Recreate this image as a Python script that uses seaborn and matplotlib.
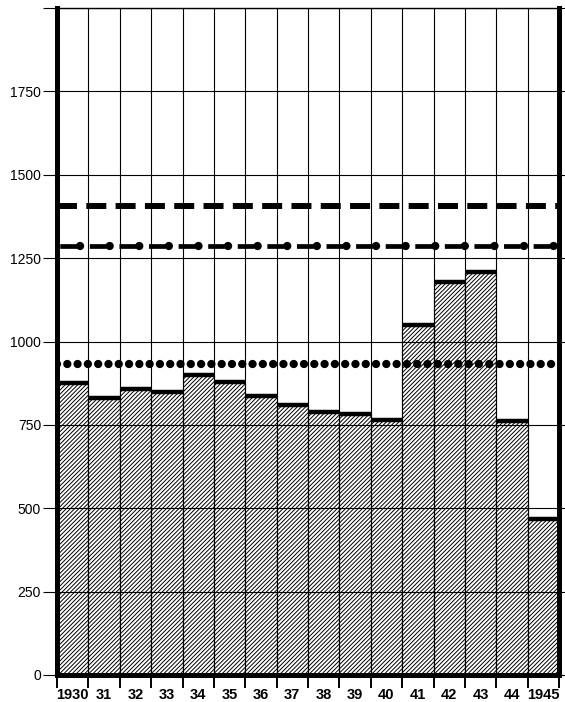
import matplotlib
matplotlib.use("Agg")
import matplotlib.pyplot as plt
import seaborn as sns
import numpy as np
import pandas as pd

# ---- data ----
years = ["1930", "31", "32", "33", "34", "35", "36", "37", "38", "39",
         "40", "41", "42", "43", "44", "1945"]
values = [875, 830, 858, 850, 900, 880, 837, 810, 790, 782,
          765, 1050, 1177, 1207, 762, 468]
dashed_level = 1405
dashdot_level = 1285
dotted_level = 932
y_ticks = [0, 250, 500, 750, 1000, 1250, 1500, 1750, 2000]
y_tick_labels = ["0", "250", "500", "750", "1000", "1250", "1500", "1750", ""]

sns.set_theme(style="white")
plt.rcParams["font.family"] = ["Liberation Sans", "DejaVu Sans"]
plt.rcParams["lines.scale_dashes"] = False
plt.rcParams["hatch.linewidth"] = 0.7
plt.rcParams["hatch.color"] = "black"

df = pd.DataFrame({"year": years, "value": values})

fig = plt.figure(figsize=(5.65, 7.02), dpi=100)
ax = fig.add_axes([57 / 565, 27 / 702, (559 - 57) / 565, (675 - 8) / 702])

sns.barplot(data=df, x="year", y="value", order=years, width=1.0,
            color="white", saturation=1, edgecolor="black", linewidth=0.8,
            hatch="////////", ax=ax, zorder=1)

# thick top edge of every bar, taken from the drawn patches
for p in ax.patches:
    ax.plot([p.get_x(), p.get_x() + p.get_width()],
            [p.get_height(), p.get_height()],
            color="black", lw=3.2, solid_capstyle="butt", zorder=3)

ax.set_xlim(-0.5, len(years) - 0.5)
ax.set_ylim(0, 2000)
ax.set_yticks(y_ticks)
ax.set_yticklabels(y_tick_labels, fontsize=10)
ax.set_xticks(range(len(years)))
ax.set_xticklabels(years, fontsize=10.5, fontweight="bold")
ax.set_xticks(np.arange(len(years) + 1) - 0.5, minor=True)
ax.set_xlabel("")
ax.set_ylabel("")

# grid drawn over the bars
ax.set_axisbelow(False)
ax.grid(True, axis="y", which="major", color="black", lw=0.8, zorder=2.5)
ax.grid(True, axis="x", which="minor", color="black", lw=0.8, zorder=2.5)
ax.grid(False, axis="x", which="major")

ax.tick_params(axis="x", which="major", length=0, pad=9.5, colors="black")
ax.tick_params(axis="x", which="minor", length=9, width=1.4, direction="out",
               bottom=True, color="black")
ax.tick_params(axis="y", which="major", length=10, width=0.8, pad=1.5,
               direction="out", left=True, right=True, colors="black")
ax.tick_params(axis="y", which="major", labelright=False)

for side in ["left", "bottom", "right"]:
    ax.spines[side].set_linewidth(3.6)
    ax.spines[side].set_color("black")
ax.spines["top"].set_linewidth(1.0)
ax.spines["top"].set_color("black")

# reference levels
ax.axhline(dashed_level, color="black", lw=4.3,
           linestyle=(0, (14.4, 6.7)), dash_capstyle="butt", zorder=4)
ax.axhline(dashdot_level, color="black", lw=3.4,
           linestyle=(-2, (12.0, 9.3)), dash_capstyle="butt", zorder=4)
ax.axhline(dashdot_level, color="black", lw=6.0,
           linestyle=(4.7, (0.01, 21.3)), dash_capstyle="round", zorder=4)
ax.axhline(dotted_level, color="black", lw=6.0,
           linestyle=(0, (0.01, 7.4)), dash_capstyle="round", zorder=4)

fig.savefig("out.png", dpi=100, facecolor="white")
